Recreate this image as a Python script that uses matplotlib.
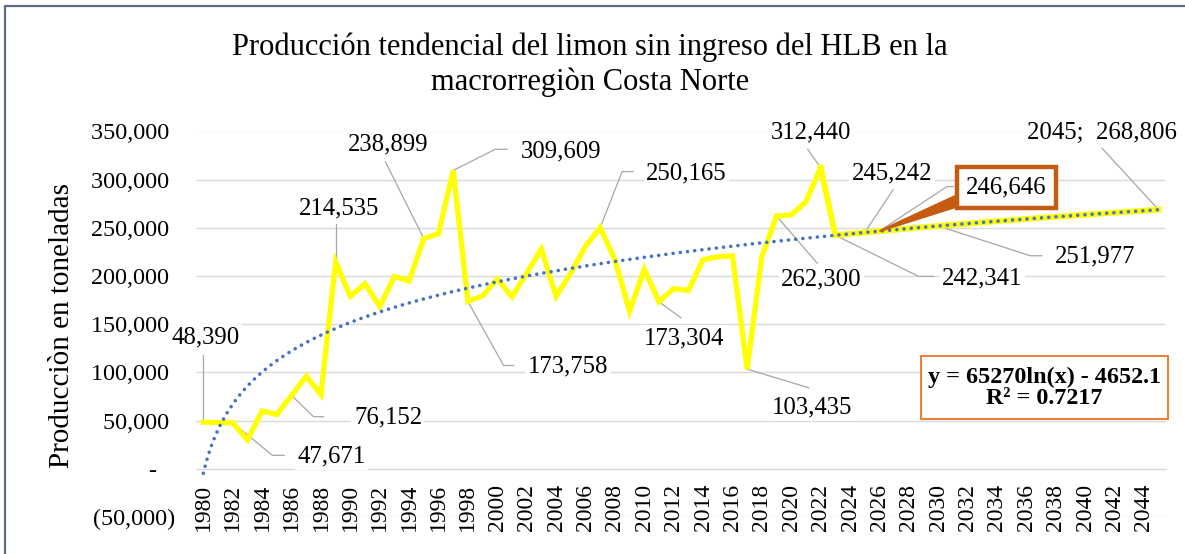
import matplotlib

matplotlib.use("Agg")
import matplotlib.pyplot as plt
import numpy as np
from matplotlib.lines import Line2D
from matplotlib.patches import Polygon, Rectangle

plt.rcParams["font.family"] = ["Liberation Serif", "DejaVu Serif"]

# produccion historica 1980-2022 (t)
years_hist = list(range(1980, 2023))
prod_hist = [48390, 48000, 47671, 30000, 60000, 56500, 76152, 96000, 77000, 214535,
             179000, 192000, 168500, 199500, 195000, 238899, 244000, 309609, 173758, 179500,
             197000, 178500, 203000, 228000, 179000, 203000, 231000, 250165, 217000, 163500,
             207000, 173304, 187000, 185000, 217000, 220000, 221000, 103435, 220000, 262300,
             263500, 277000, 312440]

# proyeccion 2023-2045 (t)
years_proj = list(range(2023, 2046))
prod_proj = [242341, 243809, 245242, 246646, 248021, 249367, 250686, 251977, 253246, 254489,
             255709, 256907, 258083, 259238, 260373, 261489, 262586, 263665, 264726, 265770,
             266798, 267811, 268806]

# linea de tendencia logaritmica mostrada en el grafico
TREND_A = 65270
TREND_B = -4652.1
TREND_LABEL = "y = 65270ln(x) - 4652.1\nR² = 0.7217"

year_ticks = list(range(1980, 2046, 2))
y_ticks = [-50000, 0, 50000, 100000, 150000, 200000, 250000, 300000, 350000]
y_ticklabels = ["(50,000)", "-   ", "50,000 ", "100,000 ", "150,000 ", "200,000 ",
                "250,000 ", "300,000 ", "350,000 "]

# etiquetas de datos: (anio, valor, texto, posicion del texto, codo del conector)
labels = [
    (1980, 48390, "48,390", (1980.14, 136200), [(1980, 118600)]),
    (1982, 47671, "47,671", (1988.7, 13000), [(1984.7, 13980), (1985.5, 13980)]),
    (1986, 76152, "76,152", (1992.56, 53640), [(1987.5, 54050), (1988.18, 54050)]),
    (1989, 214535, "214,535", (1989.25, 269750), [(1989, 253700)]),
    (1995, 238899, "238,899", (1992.59, 336750), [(1992.38, 318730)]),
    (1997, 309609, "309,609", (2004.36, 329090), [(1999.87, 331570), (2000.66, 331570)]),
    (2007, 250165, "250,165", (2012.86, 306720), [(2008.49, 308380), (2009.24, 308380)]),
    (1998, 173758, "173,758", (2004.81, 105830), [(2000.43, 107170), (2001.11, 107170)]),
    (2011, 173304, "173,304", (2012.73, 135130), [(2012.5, 156570)]),
    (2017, 103435, "103,435", (2021.44, 64000), [(2021.19, 84080)]),
    (2019, 262300, "262,300", (2022.05, 196230), [(2021.76, 213520)]),
    (2022, 312440, "312,440", (2021.37, 348760), [(2021.12, 331570)]),
    (2023, 242341, "242,341", (2033.0, 197990), [(2028.67, 199650), (2029.69, 199650)]),
    (2025, 245242, "245,242", (2026.86, 306720), [(2026.93, 289430)]),
    (2030, 251977, "251,977", (2040.69, 220360), [(2036.27, 221080), (2037.05, 221080)]),
    (2045, 268806, "2045;  268,806", (2041.15, 348760), [(2041.15, 332610)]),
]
callout = (2026, 246646, "246,646", (2034.64, 291700), [(2030.6, 292840), (2031.03, 292840)])

W, H = 1185, 554
fig = plt.figure(figsize=(W / 100, H / 100), dpi=100)
ax = fig.add_axes([196 / W, 37 / H, 970 / W, 385.5 / H])

ax.set_xlim(1979.5, 2045.5)
ax.set_ylim(-50000, 350000)
ax.set_yticks(y_ticks)
ax.set_yticklabels(y_ticklabels, fontsize=17.4)
ax.set_xticks(year_ticks)
ax.set_xticklabels([str(y) for y in year_ticks], fontsize=17, rotation=90)
ax.grid(axis="y", color="#D9D9D9", linewidth=1.0)
ax.set_axisbelow(True)
for side in ("top", "right", "left"):
    ax.spines[side].set_visible(False)
ax.spines["bottom"].set_position(("data", 0))
ax.spines["bottom"].set_color("#D9D9D9")
ax.tick_params(axis="x", length=0, pad=11, labelsize=17, labelrotation=90)
ax.tick_params(axis="y", length=0, pad=15, labelsize=17.4)

# serie principal
ax.plot(years_hist, prod_hist, color="#FFFF00", linewidth=3.8,
        solid_joinstyle="miter", zorder=3)
ax.plot([years_hist[-1]] + years_proj, [prod_hist[-1]] + prod_proj, color="#FFFF00",
        linewidth=4.2, solid_joinstyle="miter", zorder=3)

# tendencia
xt = np.linspace(1980, 2045, 400)
yt = TREND_A * np.log(xt - 1979) + TREND_B
ax.plot(xt, yt, color="#4472C4", linewidth=2.6, linestyle=(0, (0.01, 2.0)),
        dash_capstyle="round", zorder=4)

box = dict(boxstyle="square,pad=0.1", facecolor="white", edgecolor="none")
for yr, val, txt, pos, elbow in labels:
    pts = [(yr, val)] + elbow
    ax.plot([p[0] for p in pts], [p[1] for p in pts], color="#A6A6A6", linewidth=0.9, zorder=2)
    ax.text(pos[0], pos[1], txt, ha="center", va="center", fontsize=17.8, bbox=box, zorder=5)

# etiqueta resaltada
yr, val, txt, pos, elbow = callout
pts = [(yr, val)] + elbow
ax.plot([p[0] for p in pts], [p[1] for p in pts], color="#A6A6A6", linewidth=0.9, zorder=2)
ax.add_patch(Polygon([(yr, val), (2031.15, 283000), (2031.15, 271500)], closed=True,
                     facecolor="#C55A11", edgecolor="#C55A11", linewidth=1.5, zorder=5))
ax.text(pos[0], pos[1], txt, ha="center", va="center", fontsize=17.8, zorder=6,
        bbox=dict(boxstyle="square,pad=0.38", facecolor="white", edgecolor="#C55A11",
                  linewidth=3.2))

# ecuacion de tendencia
fig.add_artist(Rectangle((920.7 / W, 135 / H), 247.6 / W, 63 / H, transform=fig.transFigure,
                         facecolor="white", edgecolor="#ED7D31", linewidth=1.4, zorder=5))
fig.text(1044.5 / W, (554 - 388) / H, TREND_LABEL, ha="center", va="center",
         fontsize=17.4, fontweight="bold", linespacing=1.0, zorder=6)

fig.text(62 / W, (554 - 325) / H, "Producciòn en toneladas", rotation=90,
         ha="center", va="center", fontsize=21)

fig.text(590 / W, (554 - 47) / H, "Producción tendencial del limon sin ingreso del HLB en la",
         ha="center", va="center", fontsize=22)
fig.text(590 / W, (554 - 82) / H, "macrorregiòn Costa Norte", ha="center", va="center",
         fontsize=22)

# marco del grafico
fig.add_artist(Line2D([5 / W, 5 / W, 1.0], [0.0, 1 - 6 / H, 1 - 6 / H],
                      transform=fig.transFigure, color="#5B6B86", linewidth=1.6))

fig.savefig("out.png", dpi=100)
